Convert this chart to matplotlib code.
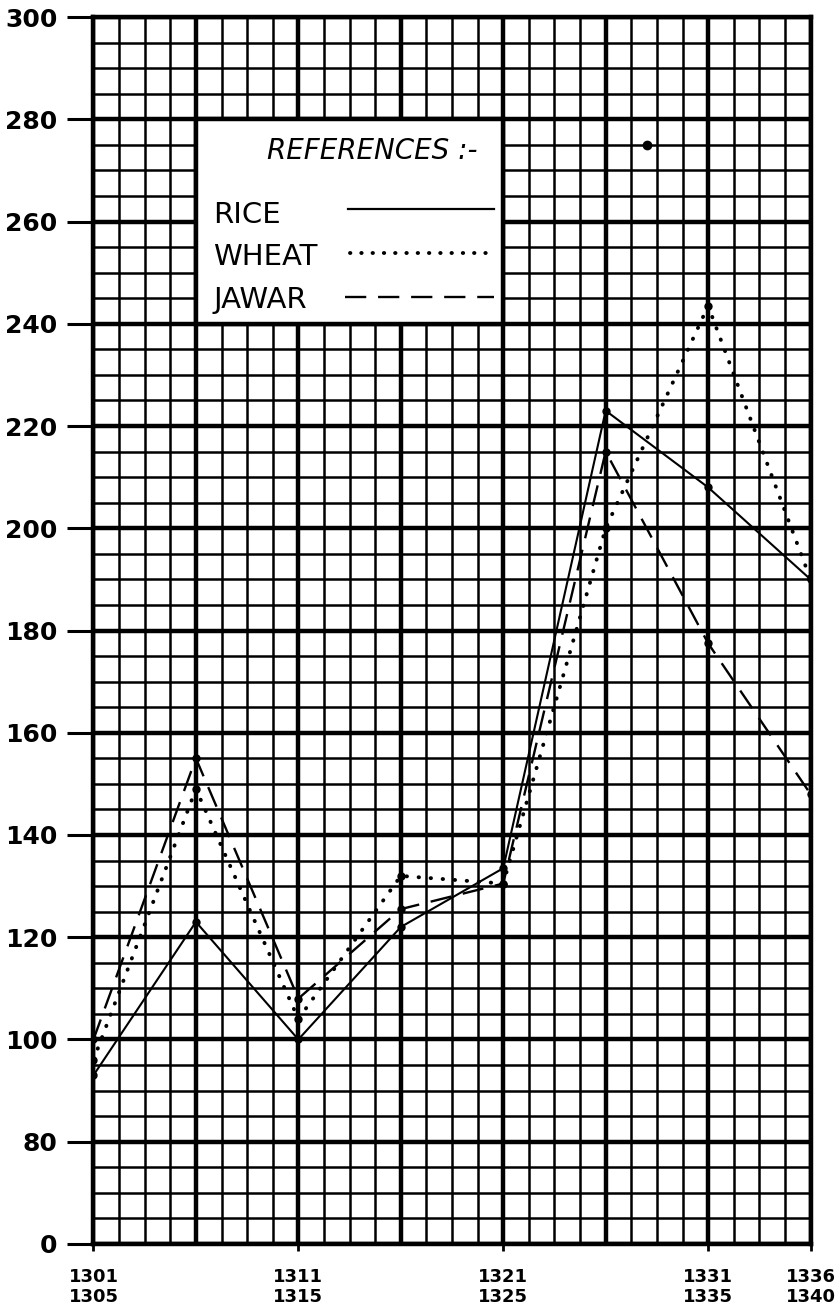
import matplotlib
matplotlib.use('Agg')
import matplotlib.pyplot as plt
import numpy as np
from matplotlib.patches import Rectangle
from matplotlib.ticker import NullLocator

# five-year periods, one point each
periods = ['1301\n1305', '1306\n1310', '1311\n1315', '1316\n1320',
           '1321\n1325', '1326\n1330', '1331\n1335', '1336\n1340']
labelled = [0, 2, 4, 6, 7]

rice = [93, 123, 100, 122, 133.5, 223, 208, 190]
wheat = [96, 149, 104, 132, 130.5, 200, 243.5, 190]
jawar = [100, 155, 108, 125.5, 130.5, 215, 177.5, 148]

y_ticks = [0, 80, 100, 120, 140, 160, 180, 200, 220, 240, 260, 280, 300]
# stray ink dot on the original sheet
stray_x = [5.4]
stray_y = [275]


def fwd(v):
    # 0..80 squeezed into four small squares (broken axis)
    v = np.asarray(v, dtype=float)
    return np.where(v >= 80, v, 60 + v / 4)


def inv(d):
    d = np.asarray(d, dtype=float)
    return np.where(d >= 80, d, (d - 60) * 4)


THIN = 1.8
THICK = 3.2

fig = plt.figure(figsize=(8.39, 13.10), dpi=100)
ax = fig.add_axes([0.1114, 0.0504, 0.8547, 0.9366])
ax.set_yscale('function', functions=(fwd, inv))
ax.set_xlim(0, 7)
ax.set_ylim(0, 300)

# graph paper
minor_h = [20, 40, 60] + [v for v in range(85, 300, 5) if v % 20]
for v in minor_h:
    ax.axhline(v, color='black', lw=THIN, zorder=1)
for v in y_ticks:
    ax.axhline(v, color='black', lw=THICK, zorder=1)
for xv in np.arange(0, 7.01, 0.25):
    ax.axvline(xv, color='black', lw=THICK if xv % 1 == 0 else THIN, zorder=1)

x = np.arange(len(periods))
ax.plot(x, rice, color='black', lw=1.5, marker='o', ms=5, zorder=5)
ax.plot(x, wheat, color='black', lw=2.8, linestyle=(0, (0.1, 3.0)),
        dash_capstyle='round', marker='o', ms=5, zorder=5)
ax.plot(x, jawar, color='black', lw=1.7, linestyle=(0, (9, 5)),
        marker='o', ms=5, zorder=5)
ax.plot(stray_x, stray_y, 'o', color='black', ms=6, zorder=5)

# legend panel over the grid
ax.add_patch(Rectangle((1, 240), 3, 40, facecolor='white', edgecolor='black',
                       lw=THICK, zorder=6))
ax.text(2.72, 272.2, 'REFERENCES :-', style='italic', fontsize=20,
        ha='center', va='baseline', zorder=7)
ax.text(1.17, 259.8, 'RICE', fontsize=21, va='baseline', zorder=7)
ax.text(1.17, 251.4, 'WHEAT', fontsize=21, va='baseline', zorder=7)
ax.text(1.17, 243.1, 'JAWAR', fontsize=21, va='baseline', zorder=7)
ax.plot([2.48, 3.91], [262.4, 262.4], color='black', lw=1.6, zorder=7)
ax.plot([2.5, 3.91], [253.9, 253.9], color='black', lw=2.8,
        linestyle=(0, (0.1, 2.8)), dash_capstyle='round', zorder=7)
ax.plot([2.46, 3.91], [245.2, 245.2], color='black', lw=1.7,
        linestyle=(0, (9, 5)), zorder=7)

for s in ax.spines.values():
    s.set_linewidth(THICK)
    s.set_zorder(8)

ax.set_yticks(y_ticks)
ax.set_yticklabels([str(v) for v in y_ticks], fontsize=18, fontweight='bold')
ax.yaxis.set_minor_locator(NullLocator())
ax.tick_params(axis='y', direction='out', length=19, width=2.2, pad=7)

ax.set_xticks(labelled)
ax.set_xticklabels([periods[i] for i in labelled], fontsize=13, fontweight='bold')
ax.xaxis.set_minor_locator(NullLocator())
ax.tick_params(axis='x', direction='out', length=5, width=2, pad=12)

fig.savefig('out.png', dpi=100)
